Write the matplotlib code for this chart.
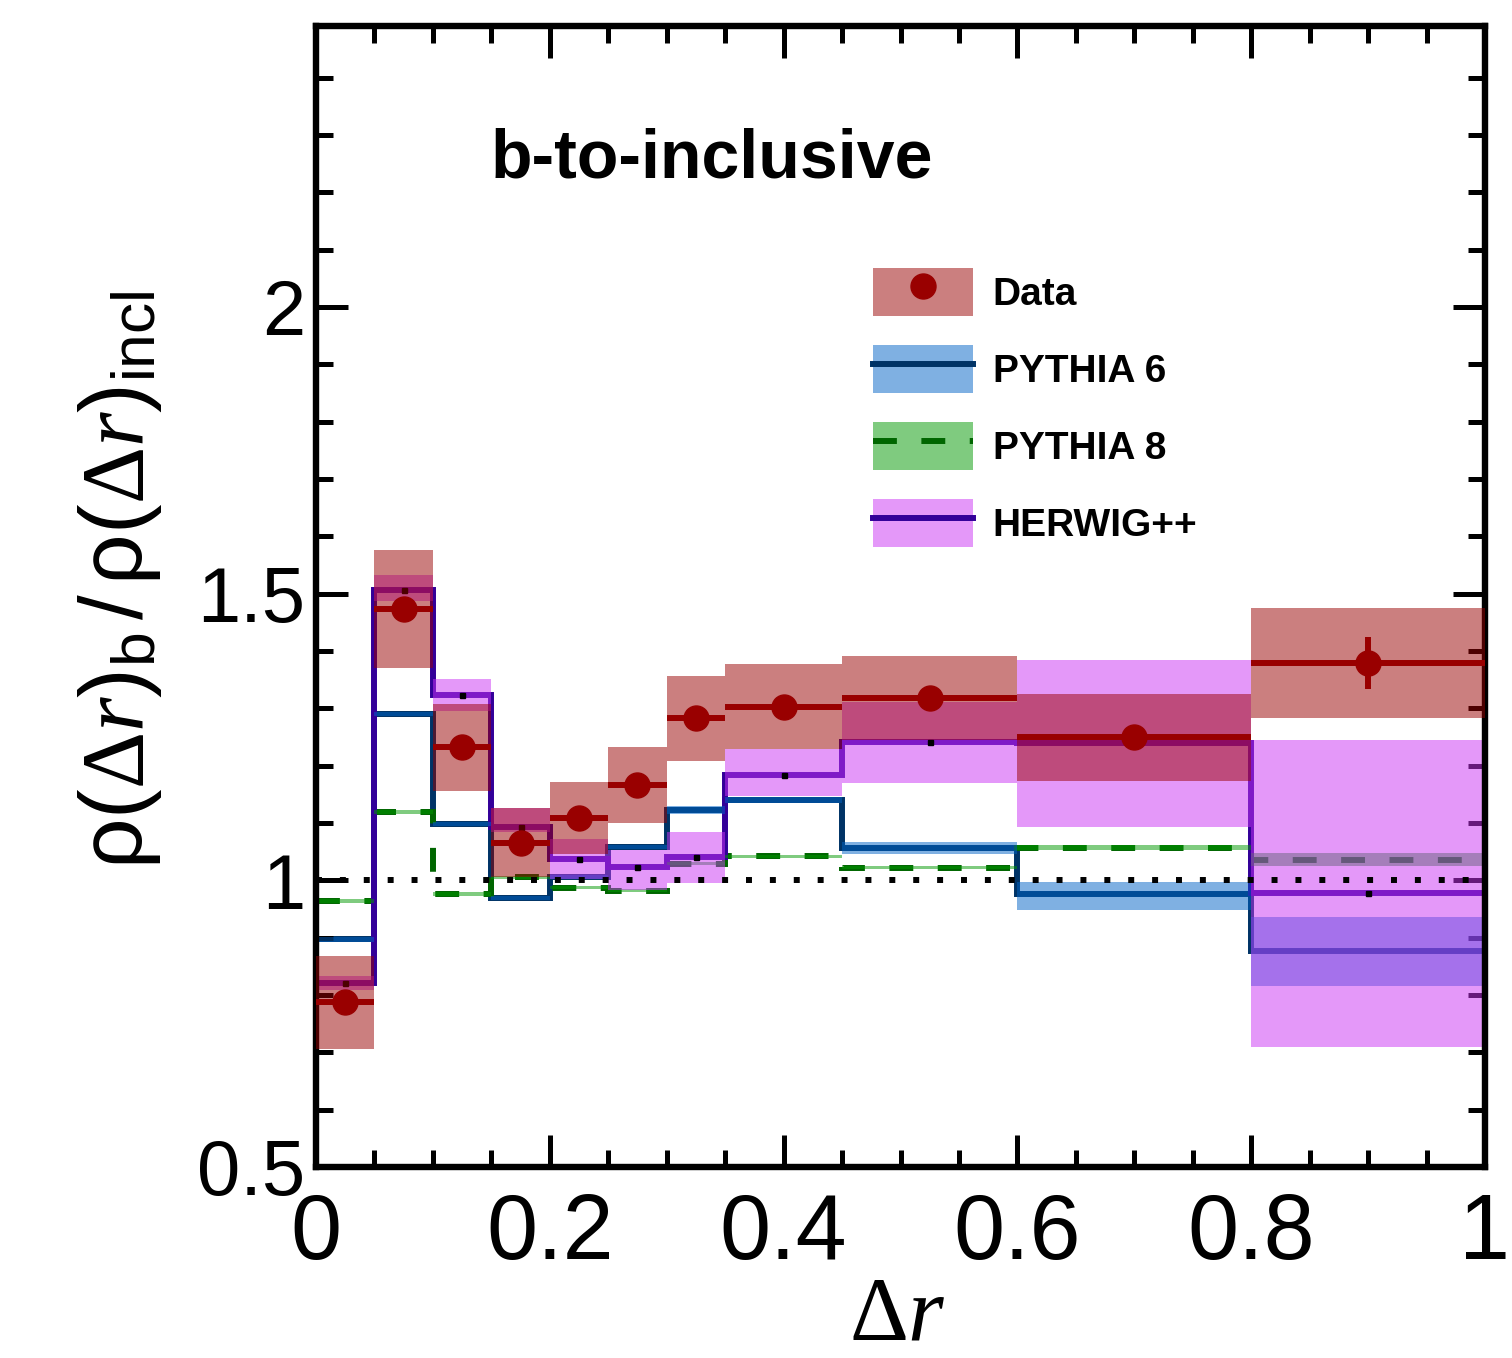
import matplotlib
matplotlib.use("Agg")
import matplotlib.pyplot as plt
import numpy as np
from matplotlib.patches import Patch
from matplotlib.lines import Line2D

plt.rcParams['font.family'] = ['Liberation Sans', 'DejaVu Sans']
plt.rcParams['mathtext.fontset'] = 'custom'
plt.rcParams['mathtext.rm'] = 'Liberation Sans'
plt.rcParams['mathtext.it'] = 'Liberation Serif:italic'
plt.rcParams['mathtext.sf'] = 'Liberation Serif'

# ---------------- data ----------------
edges = [0, 0.05, 0.1, 0.15, 0.2, 0.25, 0.3, 0.35, 0.45, 0.6, 0.8, 1.0]

data = [0.788, 1.474, 1.232, 1.065, 1.109, 1.167, 1.283, 1.303, 1.318, 1.250, 1.379]
data_stat = [0.01, 0.01, 0.01, 0.01, 0.01, 0.01, 0.01, 0.01, 0.01, 0.02, 0.045]
data_band_lo = [0.706, 1.371, 1.156, 1.005, 1.046, 1.100, 1.208, 1.229, 1.245, 1.173, 1.283]
data_band_hi = [0.868, 1.576, 1.307, 1.126, 1.172, 1.233, 1.357, 1.378, 1.391, 1.325, 1.475]

pythia6 = [0.897, 1.290, 1.098, 0.969, 1.006, 1.058, 1.122, 1.140, 1.057, 0.976, 0.877]
pythia6_lo = [0.893, 1.286, 1.094, 0.965, 1.002, 1.054, 1.115, 1.134, 1.046, 0.949, 0.816]
pythia6_hi = [0.901, 1.294, 1.102, 0.973, 1.010, 1.062, 1.129, 1.146, 1.066, 0.997, 0.936]

pythia8 = [0.964, 1.119, 0.976, 1.005, 0.987, 0.982, 1.029, 1.042, 1.022, 1.057, 1.036]
pythia8_lo = [0.961, 1.116, 0.973, 1.002, 0.984, 0.979, 1.026, 1.039, 1.019, 1.053, 1.025]
pythia8_hi = [0.967, 1.122, 0.979, 1.008, 0.990, 0.985, 1.032, 1.045, 1.025, 1.061, 1.047]

herwig = [0.821, 1.507, 1.323, 1.093, 1.037, 1.023, 1.040, 1.184, 1.241, 1.240, 0.978]
herwig_lo = [0.809, 1.487, 1.295, 1.085, 1.002, 0.983, 0.995, 1.147, 1.170, 1.093, 0.709]
herwig_hi = [0.833, 1.532, 1.351, 1.126, 1.072, 1.053, 1.084, 1.229, 1.311, 1.384, 1.245]
herwig_overflow = 0.68
overflow_edge = 1.05

xticks = [0, 0.2, 0.4, 0.6, 0.8, 1.0]
xticklabels = ["0", "0.2", "0.4", "0.6", "0.8", "1"]
yticks = [0.5, 1.0, 1.5, 2.0]
yticklabels = ["0.5", "1", "1.5", "2"]

legend_labels = ["Data", "PYTHIA 6", "PYTHIA 8", "HERWIG++"]

# ---------------- colours ----------------
c_data = '#990000'
c_p6_line, c_p6_band = '#003366', '#0063C7'
c_p8_line, c_p8_band = '#006600', '#009900'
c_hw_line, c_hw_band = '#330099', '#CB33F5'

fig = plt.figure(figsize=(15.12, 13.58), dpi=100)
ax = fig.add_axes([316/1512, 1-1167/1358, (1485-316)/1512, (1167-26)/1358])

e = np.array(edges)
centers = 0.5*(e[1:] + e[:-1])
halfw = 0.5*(e[1:] - e[:-1])

lw = 4.3
dash = (0, (4, 4.1))

# MC lines (below bands)
ax.stairs(pythia6, edges, baseline=None, color=c_p6_line, lw=lw, zorder=1)
ax.stairs(pythia8, edges, baseline=None, color=c_p8_line, lw=lw, ls=dash, zorder=1)
ax.stairs(herwig + [herwig_overflow], edges + [overflow_edge], baseline=None,
          color=c_hw_line, lw=lw, zorder=1)

# MC bands
ax.stairs(pythia6_hi, edges, baseline=pythia6_lo, fill=True, color=c_p6_band, alpha=0.5, lw=0, zorder=2)
ax.stairs(pythia8_hi, edges, baseline=pythia8_lo, fill=True, color=c_p8_band, alpha=0.5, lw=0, zorder=2)
ax.stairs(herwig_hi, edges, baseline=herwig_lo, fill=True, color=c_hw_band, alpha=0.5, lw=0, zorder=2)

# HERWIG centre markers
ax.plot(centers, herwig, ls='none', marker='s', ms=3.6, color='black', zorder=2.5)

# data band
ax.stairs(data_band_hi, edges, baseline=data_band_lo, fill=True, color=c_data, alpha=0.5, lw=0, zorder=3)

# data points
ax.errorbar(centers, data, xerr=halfw, yerr=data_stat, fmt='o', ms=18, color=c_data,
            elinewidth=lw, capsize=0, zorder=4)

ax.axhline(1.0, color='black', lw=lw, ls=(0, (1, 3)), zorder=5)

ax.set_xlim(0, 1)
ax.set_ylim(0.5, 2.49)
ax.set_xticks(xticks)
ax.set_xticklabels(xticklabels)
ax.set_yticks(yticks)
ax.set_yticklabels(yticklabels)
ax.set_xticks(np.arange(0, 1.0001, 0.05), minor=True)
ax.set_yticks(np.arange(0.5, 2.49, 0.1), minor=True)
ax.tick_params(which='both', direction='in', top=True, right=True, width=3.6)
ax.tick_params(which='major', length=23)
ax.tick_params(which='minor', length=12)
ax.tick_params(axis='x', labelsize=66, pad=18)
ax.tick_params(axis='y', labelsize=56, pad=8)
for s in ax.spines.values():
    s.set_linewidth(4.6)

ax.text(0.149, 0.867, "b-to-inclusive", transform=ax.transAxes, fontsize=49,
        fontweight='bold', va='baseline', ha='left')

fig.text(120/1512, 1-580/1358,
         r'$\mathrm{ρ(}\mathsf{Δ}\mathit{r}\mathrm{)}_{\mathrm{b}}\,\mathrm{/}\,\mathrm{ρ(}\mathsf{Δ}\mathit{r}\mathrm{)}_{\mathrm{incl}}$',
         rotation=90, ha='center', va='center', fontsize=64)
fig.text(897/1512, 1-1316/1358, r'$\mathsf{Δ}\mathit{r}$', ha='center', va='center', fontsize=66)

handles = [
    (Patch(facecolor=c_data, alpha=0.5, lw=0), Line2D([], [], marker='o', ms=18, color=c_data, ls='none')),
    (Patch(facecolor=c_p6_band, alpha=0.5, lw=0), Line2D([], [], color=c_p6_line, lw=lw)),
    (Patch(facecolor=c_p8_band, alpha=0.5, lw=0), Line2D([], [], color=c_p8_line, lw=lw, ls=dash)),
    (Patch(facecolor=c_hw_band, alpha=0.5, lw=0), Line2D([], [], color=c_hw_line, lw=lw)),
]
fig.legend(handles, legend_labels, loc='upper left', bbox_to_anchor=(873/1512, 1-268/1358),
           bbox_transform=fig.transFigure, frameon=False, borderpad=0, borderaxespad=0,
           prop={'family': 'Liberation Sans', 'weight': 'bold', 'size': 28},
           handlelength=2.57, handleheight=1.52, labelspacing=0.75, handletextpad=0.51)

fig.savefig("out.png", dpi=100)
